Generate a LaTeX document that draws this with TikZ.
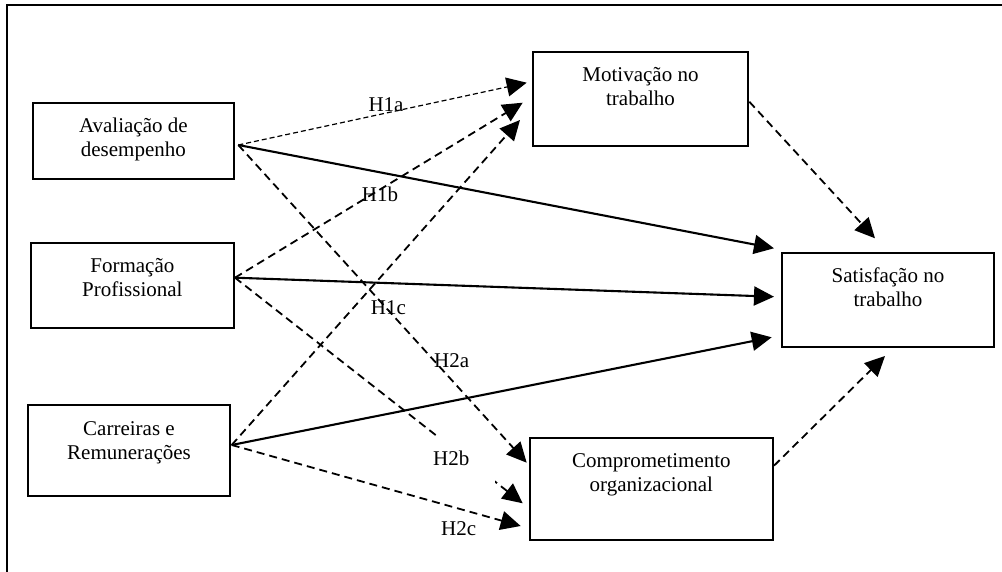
\documentclass[tikz,border=0pt]{standalone}
\usepackage{fontspec}
\setmainfont{Liberation Serif}
\usetikzlibrary{arrows.meta}
\newcommand{\bxt}[3]{\parbox[t][#2][t]{#1}{\centering\rule{0pt}{30pt}#3}}
\begin{document}
\begin{tikzpicture}[x=1pt,y=-1pt,
  box/.style={draw, line width=2pt, inner sep=0pt, anchor=north west,
    font=\fontsize{21}{24}\selectfont},
  lbl/.style={inner sep=0pt, anchor=base west, font=\fontsize{21}{24}\selectfont},
  tip/.style={-{Triangle[length=20pt,width=19pt]}},
  dsh/.style={tip, line width=1.8pt, dash pattern=on 8pt off 5pt},
  fine/.style={tip, line width=1.2pt, dash pattern=on 5pt off 3pt},
  sol/.style={tip, line width=2.1pt}]
\useasboundingbox (0,0) rectangle (1002,572);
% frame
\draw[line width=2.2pt] (7,575) -- (7,5) -- (1005,5);
% boxes
\node[box] (aval) at (31.7,101.7) {\bxt{201.3pt}{76.6pt}{Avaliação de\\desempenho}};
\node[box] (form) at (30,241.7) {\bxt{202.7pt}{85pt}{Formação\\Profissional}};
\node[box] (carr) at (26.7,404) {\bxt{202.6pt}{91pt}{Carreiras e\\Remunerações}};
\node[box] (motiv) at (532.3,51) {\bxt{214.4pt}{94pt}{Motivação no\\trabalho}};
\node[box] (satis) at (781,251.7) {\bxt{212pt}{94pt}{Satisfação no\\trabalho}};
\node[box] (comp) at (529,436.5) {\bxt{242.7pt}{102pt}{Comprometimento\\organizacional}};
% connector end points
\coordinate (a0) at (238.3,145);
\coordinate (f0) at (235,277.7);
\coordinate (c0) at (231.7,445);
\coordinate (m1) at (526.7,82.7);
\coordinate (m2) at (522.7,102.7);
\coordinate (m3) at (520,120);
\coordinate (s1) at (774,248.3);
\coordinate (s2) at (774,296.7);
\coordinate (s3) at (771.7,337.3);
\coordinate (s4) at (875,238.3);
\coordinate (s5) at (885,356);
\coordinate (p1) at (526.7,462.7);
\coordinate (p2) at (522.7,503.3);
\coordinate (p3) at (520.7,526);
\coordinate (mo) at (749.3,101.7);
\coordinate (co) at (774,465.7);
% connectors
\draw[fine] (a0) -- (m1);
\draw[dsh] (f0) -- (m2);
\draw[dsh] (c0) -- (m3);
\draw[sol] (a0) -- (s1);
\draw[sol] (f0) -- (s2);
\draw[sol] (c0) -- (s3);
\draw[dsh] (a0) -- (p1);
\draw[dsh] (f0) -- (p2);
\draw[dsh] (c0) -- (p3);
\draw[dsh] (mo) -- (s4);
\draw[dsh] (co) -- (s5);
% labels
\node[lbl] (l1a) at (368.3,111.7) {H1a};
\node[lbl] (l1b) at (361.7,201.7) {H1b};
\node[lbl] (l1c) at (370.7,314) {H1c};
\node[lbl] (l2a) at (434,367.3) {H2a};
\node[lbl, anchor=north west, fill=white] (l2b) at (431,436) {\parbox[t][53pt][t]{64pt}{\rule{0pt}{29pt}\hspace*{2pt}H2b}};
\node[lbl] (l2c) at (441,535.7) {H2c};
\end{tikzpicture}
\end{document}
